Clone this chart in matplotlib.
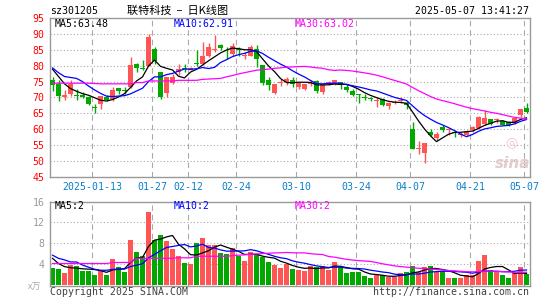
import numpy as np
import pandas as pd
import matplotlib
matplotlib.use("Agg")
import matplotlib.pyplot as plt

W, H = 545, 300

# date ticks (candle index -> label)
tick_idx = [7, 17, 23, 31, 41, 51, 60, 70, 79]
tick_labels = ["2025-01-13", "01-27", "02-12", "02-24", "03-10",
               "03-24", "04-07", "04-21", "05-07"]

opens = [75.4, 74.2, 70.1, 71.0, 70.9, 70.8, 70.0, 67.0, 67.9, 70.2,
         69.5, 73.1, 72.4, 73.3, 80.4, 79.1, 79.8, 85.3, 77.9, 71.3,
         74.7, 78.0, 79.1, 78.8, 80.8, 80.6, 83.2, 84.9, 86.6, 85.2,
         83.8, 85.2, 83.0, 83.2, 85.3, 80.1, 75.6, 71.3, 74.7, 74.9,
         75.6, 73.3, 72.8, 74.4, 75.2, 71.8, 74.2, 74.2, 74.9, 73.4,
         72.1, 70.9, 70.2, 69.6, 68.9, 69.5, 67.4, 68.4, 68.9, 68.4,
         60.1, 53.9, 52.5, 59.0, 57.2, 60.8, 59.7, 58.8, 58.3, 58.2,
         59.8, 60.3, 61.7, 63.1, 62.8, 62.6, 62.3, 62.0, 64.5, 66.8]
highs = [76.6, 75.4, 72.3, 75.4, 72.8, 71.8, 70.5, 67.9, 70.6, 70.7,
         73.3, 73.1, 73.3, 82.7, 81.0, 81.7, 90.0, 86.0, 77.9, 76.3,
         77.5, 80.6, 80.4, 79.6, 85.0, 87.6, 87.0, 89.5, 86.9, 85.8,
         87.2, 85.8, 84.2, 86.4, 86.4, 80.1, 76.5, 74.4, 75.9, 76.6,
         76.5, 74.9, 74.4, 75.6, 75.6, 74.4, 75.2, 75.6, 74.9, 74.2,
         72.8, 71.0, 71.2, 70.3, 70.0, 69.8, 68.6, 69.2, 70.0, 69.0,
         62.4, 56.3, 55.8, 60.0, 59.3, 61.3, 60.5, 59.8, 59.2, 59.8,
         61.1, 64.2, 66.0, 63.1, 63.4, 62.8, 62.6, 63.9, 66.4, 68.3]
lows = [72.2, 69.0, 69.2, 70.6, 69.2, 69.7, 67.5, 65.0, 66.4, 69.0,
        68.8, 71.0, 71.0, 73.1, 77.9, 78.5, 79.8, 80.6, 69.5, 70.0,
        74.4, 77.0, 78.1, 78.5, 80.0, 80.1, 82.8, 84.3, 84.8, 82.2,
        83.2, 83.2, 82.1, 82.9, 79.6, 73.9, 72.3, 71.0, 73.5, 73.9,
        73.2, 72.8, 72.5, 73.7, 71.3, 71.0, 73.9, 74.0, 72.6, 71.8,
        70.5, 68.4, 69.2, 68.8, 67.1, 67.3, 66.3, 67.8, 68.2, 66.4,
        53.7, 52.2, 49.3, 57.8, 56.7, 59.3, 58.2, 57.6, 57.6, 58.0,
        59.3, 60.1, 61.4, 61.4, 62.0, 61.3, 61.0, 61.8, 64.0, 65.2]
closes = [73.8, 70.4, 70.7, 74.4, 70.5, 70.1, 67.9, 66.8, 70.4, 69.2,
          72.5, 71.9, 72.1, 80.1, 79.4, 78.9, 89.0, 81.5, 70.2, 76.3,
          76.3, 79.1, 78.9, 79.4, 80.6, 83.0, 85.8, 85.1, 85.6, 85.1,
          86.1, 85.0, 83.2, 85.8, 82.2, 74.6, 73.9, 74.2, 74.9, 75.9,
          74.4, 74.6, 74.2, 74.6, 72.1, 74.2, 74.9, 75.4, 73.9, 72.4,
          70.8, 70.7, 69.9, 69.5, 69.0, 67.5, 68.2, 68.5, 69.0, 67.7,
          53.9, 54.1, 55.8, 58.2, 58.6, 59.8, 59.8, 58.7, 58.4, 59.5,
          60.8, 64.0, 63.4, 61.7, 62.9, 61.5, 61.4, 63.4, 66.3, 65.4]
volume = [3.3, 3.0, 2.3, 3.8, 3.6, 2.7, 2.7, 1.9, 2.8, 1.9,
          5.0, 3.4, 2.5, 8.6, 6.3, 5.5, 14.0, 8.6, 9.6, 8.4,
          6.9, 5.5, 4.2, 4.0, 8.0, 9.0, 7.6, 7.6, 6.1, 5.9,
          7.1, 5.5, 4.6, 6.3, 5.9, 5.3, 4.4, 3.8, 3.3, 4.1,
          3.0, 2.8, 2.7, 3.6, 3.5, 3.7, 2.8, 4.4, 3.4, 2.3,
          2.5, 2.5, 1.7, 1.4, 1.8, 1.8, 1.6, 1.6, 2.2, 2.5,
          3.6, 2.5, 3.4, 3.7, 2.5, 2.6, 1.4, 1.4, 1.3, 1.8,
          1.8, 4.6, 5.7, 2.8, 2.7, 1.8, 1.4, 2.2, 3.4, 2.1]

# moving-average values before the window fills
ma5_head = [78.9, 76.6, 74.3, 72.8]
ma10_head = [79.3, 77.8, 76.6, 76.3, 76.0, 75.0, 73.6, 72.4, 71.3]
ma30_head = [74.5, 74.5, 74.5, 74.5, 74.5, 74.5, 74.5, 74.4, 74.3, 74.3,
             74.3, 74.3, 74.3, 74.3, 74.7, 74.7, 75.2, 75.2, 75.2, 75.2,
             75.2, 75.4, 75.4, 75.4, 75.4, 75.7, 75.8, 75.9, 76.0]
vma5_head = [5.1, 4.1, 3.5, 3.3]
vma10_head = [5.7, 5.1, 4.8, 4.4, 4.4, 3.8, 3.4, 3.0, 2.8]
vma30_head = [4.1, 4.1, 4.1, 4.1, 4.1, 4.1, 4.1, 4.1, 4.1, 4.1,
              4.3, 4.3, 4.3, 4.3, 5.1, 5.1, 5.1, 5.1, 5.1, 5.1,
              5.1, 5.2, 5.2, 5.2, 5.5, 5.5, 5.5, 5.5, 5.5]

price_ma_text = ["MA5:63.48", "MA10:62.91", "MA30:63.02"]
vol_ma_text = ["MA5:2", "MA10:2", "MA30:2"]

RED = "#FF5555"
GREEN = "#00A800"
GRID = "#aaaaaa"
MONO = "DejaVu Sans Mono"
CJK = ["Noto Sans CJK SC", "DejaVu Sans"]
FS = 7.1


def moving_avg(values, n, head):
    out = pd.Series(values).rolling(n).mean().to_numpy()
    out[:len(head)] = head
    return out


def fpos(x, y):
    return x / W, 1 - y / H


x = np.arange(len(closes))
colors = [RED if c >= o else GREEN for o, c in zip(opens, closes)]

fig = plt.figure(figsize=(W / 100, H / 100), dpi=100)
ax = fig.add_axes([50 / W, 1 - 177 / H, 479.5 / W, 159 / H])
axv = fig.add_axes([50 / W, 1 - 285.7 / H, 479.5 / W, 84 / H])

for a in (ax, axv):
    a.set_xlim(-0.42, 79.5)
    for t in tick_idx:
        a.axvline(t - 0.42, color=GRID, lw=0.8, ls=(0, (5, 3.5)), zorder=0)
    for s in a.spines.values():
        s.set_color("#999999")
        s.set_linewidth(1.0)
    a.tick_params(length=0)

# price panel
ax.set_ylim(45, 95)
for v in range(50, 95, 5):
    ax.axhline(v, color=GRID, lw=0.8, ls=(0, (1, 2)), zorder=0)

ax.vlines(x, lows, highs, colors=colors, lw=1.0, zorder=2)
body_bottom = np.minimum(opens, closes)
body_h = np.maximum(np.abs(np.array(closes) - np.array(opens)), 0.3)
ax.bar(x, body_h, bottom=body_bottom, width=0.8, color=colors, lw=0, zorder=3)

ax.plot(x, moving_avg(closes, 5, ma5_head), color="black", lw=0.9, zorder=4)
ax.plot(x, moving_avg(closes, 10, ma10_head), color="#0000FF", lw=0.9, zorder=4)
ax.plot(x, moving_avg(closes, 30, ma30_head), color="#FF00FF", lw=0.9, zorder=4)

ax.set_yticks(range(45, 100, 5))
ax.set_yticklabels([str(v) for v in range(45, 100, 5)], color="#FF0000",
                   fontsize=FS, family=MONO)
ax.set_xticks([t - 0.42 for t in tick_idx])
ax.set_xticklabels(tick_labels, color="#0A7FC8", fontsize=FS, family=MONO)
ax.tick_params(axis="y", pad=4)
ax.tick_params(axis="x", pad=3.5)

# volume panel
axv.set_ylim(-0.17, 16)
for v in (4, 8, 12):
    axv.axhline(v, color=GRID, lw=0.8, ls=(0, (1, 2)), zorder=0)
axv.bar(x, volume, width=0.8, color=colors, lw=0, zorder=2)
axv.plot(x, moving_avg(volume, 5, vma5_head), color="black", lw=0.9, zorder=3)
axv.plot(x, moving_avg(volume, 10, vma10_head), color="#0000FF", lw=0.9, zorder=3)
axv.plot(x, moving_avg(volume, 30, vma30_head), color="#FF00FF", lw=0.9, zorder=3)
axv.set_yticks([4, 8, 12, 16])
axv.set_yticklabels(["4", "8", "12", "16"], color="#999999", fontsize=FS, family=MONO)
axv.set_xticks([])
axv.tick_params(axis="y", pad=4)

# texts
fig.text(*fpos(50, 11), "sz301205", fontsize=FS, family=MONO, va="center")
fig.text(*fpos(178, 11), "联特科技  –  日K线图", fontsize=8, family=CJK,
         ha="center", va="center")
fig.text(*fpos(529, 11), "2025-05-07 13:41:27", fontsize=FS, family=MONO,
         ha="right", va="center")

ma_cols = ["black", "#0000FF", "#FF00FF"]
ma_x = [55, 174, 295]
for txt, c, xx in zip(price_ma_text, ma_cols, ma_x):
    fig.text(*fpos(xx, 24), txt, color=c, fontsize=FS, family=MONO, va="center")
for txt, c, xx in zip(vol_ma_text, ma_cols, ma_x):
    fig.text(*fpos(xx, 206), txt, color=c, fontsize=FS, family=MONO, va="center")

fig.text(*fpos(28, 287), "x万", color="#aaaaaa", fontsize=6.5, family=CJK,
         va="center")
fig.text(*fpos(50, 292), "Copyright 2025 SINA.COM", color="#404040",
         fontsize=FS, family=MONO, va="center")
fig.text(*fpos(528.5, 292), "http://finance.sina.com.cn", color="#404040",
         fontsize=FS, family=MONO, ha="right", va="center")

# sina watermark
fig.text(*fpos(513, 163), "sina", color="#e2cccc", fontsize=11, weight="bold",
         style="italic", ha="center", va="center")
fig.text(*fpos(511, 142), "◎", color="#f0c8c8", fontsize=10, ha="center", va="center")

fig.savefig("out.png", dpi=100)
